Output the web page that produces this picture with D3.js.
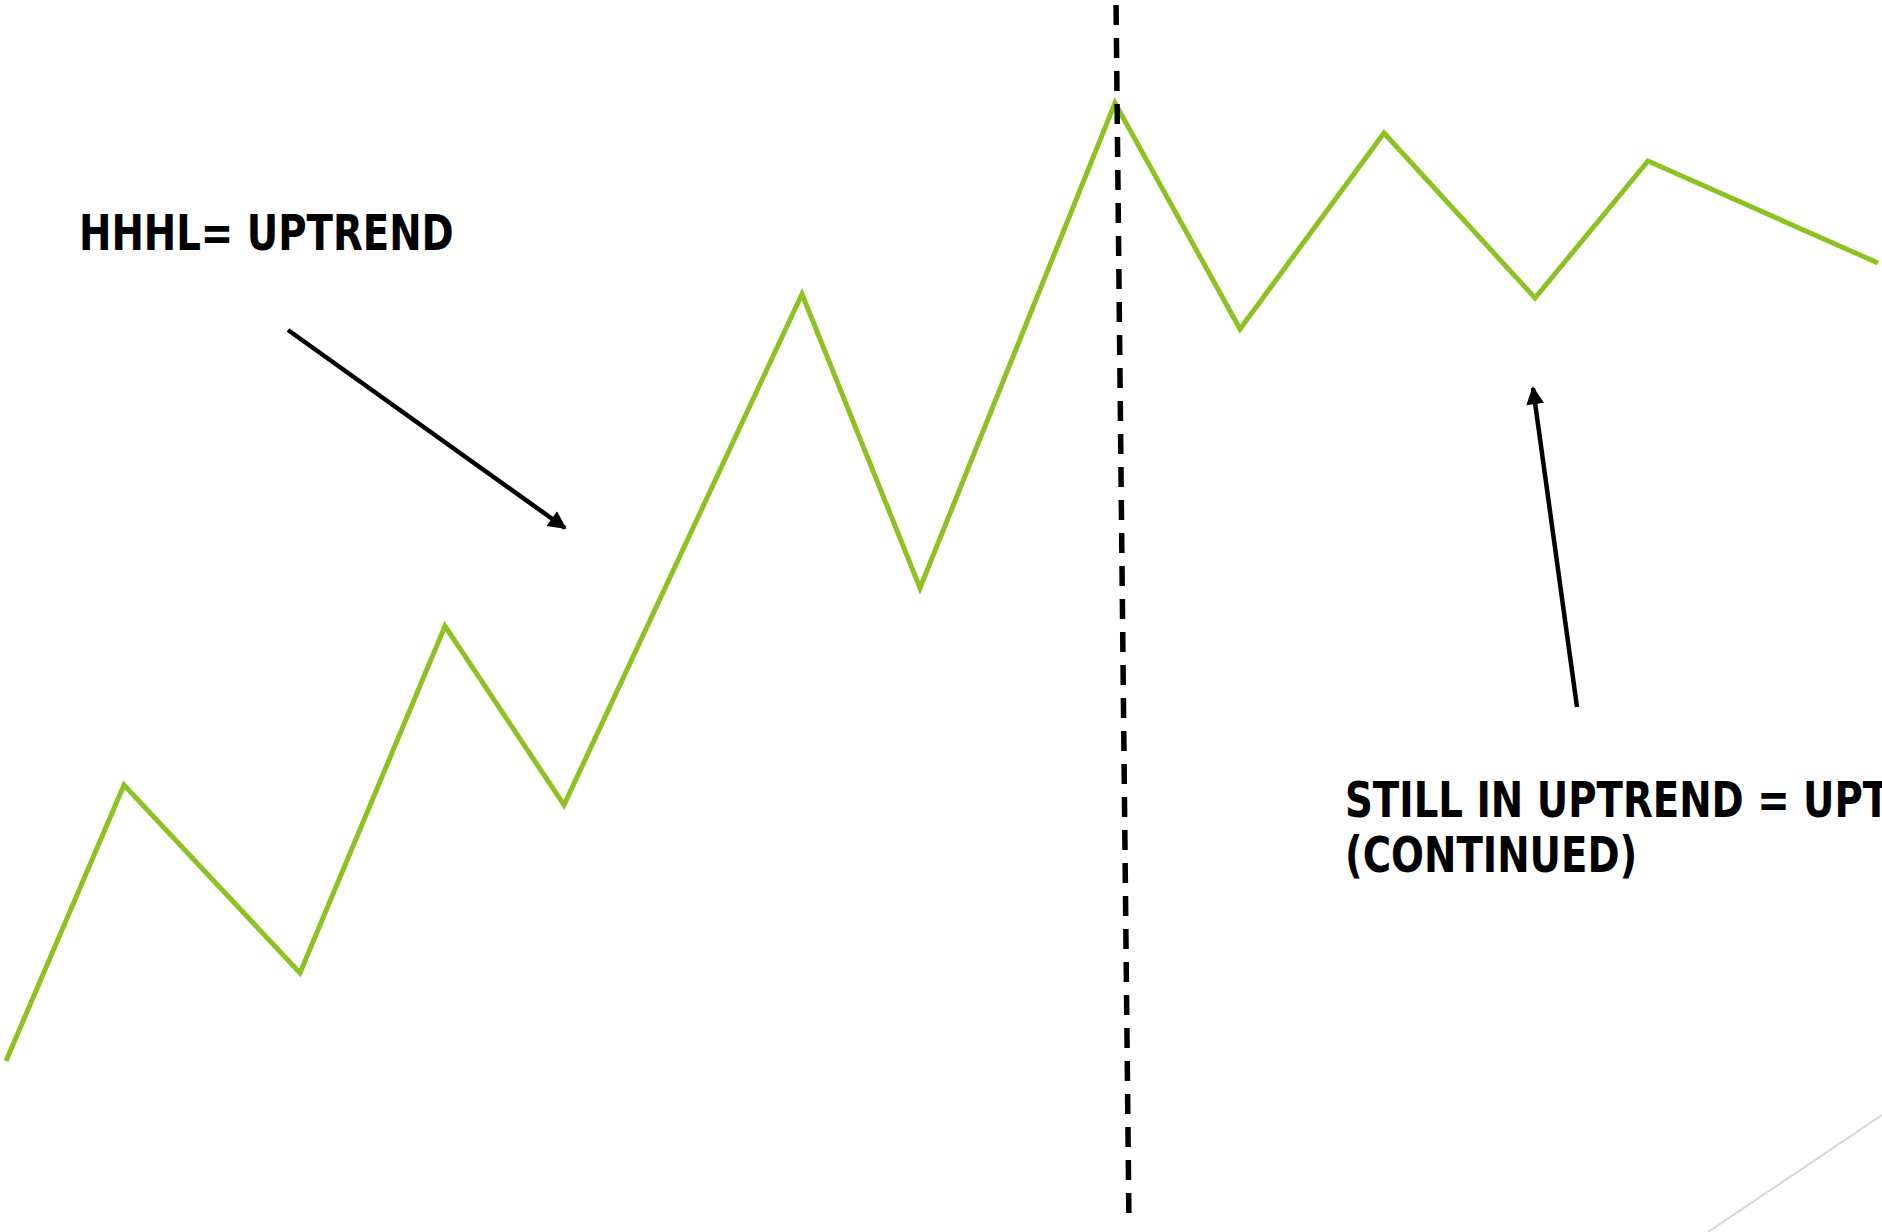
<!DOCTYPE html>
<html>
<head>
<meta charset="utf-8">
<script src="https://cdn.jsdelivr.net/npm/d3@7"></script>
<style>
  html, body { margin: 0; padding: 0; background: #ffffff; overflow: hidden; }
  svg { display: block; }
</style>
</head>
<body>
<script>
// ---- data ----
const swingTime  = [6, 124, 300, 445, 564, 802, 920, 1115, 1240, 1384, 1535, 1648, 1878];
const swingPrice = [171, 447, 259, 606, 427, 938, 644, 1129, 903, 1099, 934, 1071, 969];

const dividerTime  = [1116, 1129];
const dividerPrice = [1232, 6];

const arrowUpTrend   = { from: [288, 902], to: [565, 704] };
const arrowContinued = { from: [1577, 525], to: [1533, 844] };

const label1Lines = ["HHHL= UPTREND"];
const label1Pos   = [79, 982];
const label2Lines = ["STILL IN UPTREND = UPTREND", "(CONTINUED)"];
const label2Pos   = [1345, 415];

const greyTime  = [1708, 1882];
const greyPrice = [0, 117];

// ---- chart ----
const W = 1882, H = 1232;
const x = d3.scaleLinear().domain([0, W]).range([0, W]);
const y = d3.scaleLinear().domain([0, H]).range([H, 0]);

const svg = d3.select("body").append("svg").attr("width", W).attr("height", H);

const defs = svg.append("defs");
defs.append("marker")
  .attr("id", "arrowhead")
  .attr("viewBox", "0 0 10 10")
  .attr("refX", 9).attr("refY", 5)
  .attr("markerWidth", 4.6).attr("markerHeight", 4)
  .attr("markerUnits", "strokeWidth")
  .attr("orient", "auto")
  .append("path").attr("d", "M0,0 L10,5 L0,10 Z").attr("fill", "#000");

// faint grey line bottom right
svg.append("line")
  .attr("x1", x(greyTime[0])).attr("y1", y(greyPrice[0]))
  .attr("x2", x(greyTime[1])).attr("y2", y(greyPrice[1]))
  .attr("stroke", "#d6d6d6").attr("stroke-width", 2);

// price swing line
const pts = swingTime.map((t, i) => [t, swingPrice[i]]);
const line = d3.line().x(d => x(d[0])).y(d => y(d[1]));
svg.append("path")
  .datum(pts)
  .attr("d", line)
  .attr("fill", "none")
  .attr("stroke", "#8cc322")
  .attr("stroke-width", 5)
  .attr("stroke-linejoin", "miter");

// dashed divider
svg.append("line")
  .attr("x1", x(dividerTime[0])).attr("y1", y(dividerPrice[0]))
  .attr("x2", x(dividerTime[1])).attr("y2", y(dividerPrice[1]))
  .attr("stroke", "#000").attr("stroke-width", 5.5)
  .attr("stroke-dasharray", "20 13")
  .attr("stroke-dashoffset", -5);

// arrows
[arrowUpTrend, arrowContinued].forEach(a => {
  svg.append("line")
    .attr("x1", x(a.from[0])).attr("y1", y(a.from[1]))
    .attr("x2", x(a.to[0])).attr("y2", y(a.to[1]))
    .attr("stroke", "#000").attr("stroke-width", 4.5)
    .attr("marker-end", "url(#arrowhead)");
});

// labels (narrowed DejaVu Sans Bold to mimic the original humanist face)
const font = "'DejaVu Sans', sans-serif";
const probe = svg.append("text")
  .attr("font-family", font).attr("font-weight", "bold").attr("font-size", 50)
  .text("UPTREND");
const sx = 207 / probe.node().getComputedTextLength();
probe.remove();

function addLabel(lines, pos, lh) {
  const g = svg.append("g")
    .attr("transform", `translate(${x(pos[0])},${y(pos[1])}) scale(${sx},1)`);
  const t = g.append("text")
    .attr("x", 0).attr("y", 0)
    .attr("font-family", font)
    .attr("font-weight", "bold")
    .attr("font-size", 50)
    .attr("fill", "#000");
  lines.forEach((s, i) => {
    t.append("tspan").attr("x", 0).attr("dy", i === 0 ? 0 : lh).text(s);
  });
}
addLabel(label1Lines, label1Pos, 55);
addLabel(label2Lines, label2Pos, 55);
</script>
</body>
</html>
